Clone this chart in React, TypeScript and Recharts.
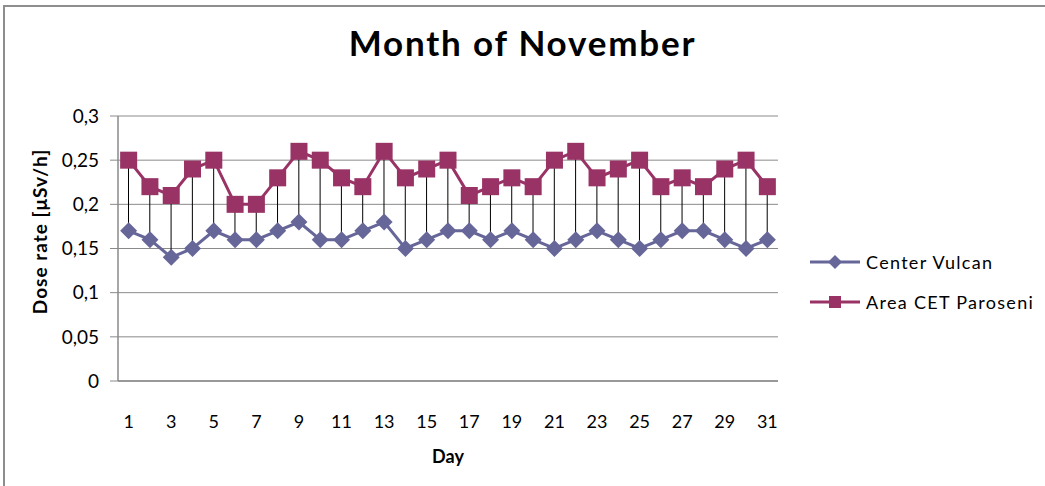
import React from 'react';
import { ComposedChart, Line, Bar, XAxis, YAxis, CartesianGrid, Legend } from 'recharts';

const days = [1, 2, 3, 4, 5, 6, 7, 8, 9, 10, 11, 12, 13, 14, 15, 16, 17, 18, 19, 20, 21, 22, 23, 24, 25, 26, 27, 28, 29, 30, 31];
const centerVulcan = [0.17, 0.16, 0.14, 0.15, 0.17, 0.16, 0.16, 0.17, 0.18, 0.16, 0.16, 0.17, 0.18, 0.15, 0.16, 0.17, 0.17, 0.16, 0.17, 0.16, 0.15, 0.16, 0.17, 0.16, 0.15, 0.16, 0.17, 0.17, 0.16, 0.15, 0.16];
const areaCetParoseni = [0.25, 0.22, 0.21, 0.24, 0.25, 0.2, 0.2, 0.23, 0.26, 0.25, 0.23, 0.22, 0.26, 0.23, 0.24, 0.25, 0.21, 0.22, 0.23, 0.22, 0.25, 0.26, 0.23, 0.24, 0.25, 0.22, 0.23, 0.22, 0.24, 0.25, 0.22];
const yTicks = [0, 0.05, 0.1, 0.15, 0.2, 0.25, 0.3];
const seriesNames = ['Center Vulcan', 'Area CET Paroseni'];
const title = 'Month of November';
const xTitle = 'Day';
const yTitle = 'Dose rate [μSv/h]';

const VULCAN = '#666699';
const PAROSENI = '#993366';
const FONT = 'Lato, Carlito, Calibri, sans-serif';

const data = days.map((d, i) => ({
  day: d,
  vulcan: centerVulcan[i],
  paroseni: areaCetParoseni[i],
  range: [Math.min(centerVulcan[i], areaCetParoseni[i]), Math.max(centerVulcan[i], areaCetParoseni[i])],
}));

const Diamond = (props: any) => {
  const { cx, cy, r = 8.5, fill = VULCAN } = props;
  if (cx == null || cy == null) return null;
  return <polygon points={`${cx},${cy - r} ${cx + r},${cy} ${cx},${cy + r} ${cx - r},${cy}`} fill={fill} />;
};

const Square = (props: any) => {
  const { cx, cy, r = 8.5, fill = PAROSENI } = props;
  if (cx == null || cy == null) return null;
  return <rect x={cx - r} y={cy - r} width={2 * r} height={2 * r} fill={fill} />;
};

const legendOrder = ['vulcan', 'paroseni'];

const renderLegend = (props: any) => {
  const items = (props.payload || [])
    .filter((p: any) => legendOrder.includes(p.dataKey))
    .sort((a: any, b: any) => legendOrder.indexOf(a.dataKey) - legendOrder.indexOf(b.dataKey));
  return (
    <div style={{ position: 'absolute', left: 0, top: 0, width: 240, fontFamily: FONT, fontSize: 18, color: '#000' }}>
      {items.map((it: any) => (
        <div key={it.dataKey} style={{ display: 'flex', alignItems: 'center', height: 28, marginBottom: 12 }}>
          <svg width={56} height={20} style={{ display: 'block', flex: 'none' }}>
            <line x1={0} y1={10} x2={50} y2={10} stroke={it.color} strokeWidth={3} />
            {it.dataKey === 'vulcan' ? <Diamond cx={25} cy={10} r={7} fill={it.color} /> : <Square cx={25} cy={10} r={6} fill={it.color} />}
          </svg>
          <span style={{ whiteSpace: 'nowrap', letterSpacing: 1.3 }}>{it.value}</span>
        </div>
      ))}
    </div>
  );
};

const YTitle = (props: any) => {
  const { viewBox } = props;
  const x = viewBox.x + 9;
  const y = viewBox.y + viewBox.height / 2 - 17;
  return (
    <text x={x} y={y} transform={`rotate(-90, ${x}, ${y})`} textAnchor="middle" fontFamily={FONT} fontWeight="bold" fontSize={19} letterSpacing={1} fill="#000">
      {yTitle}
    </text>
  );
};

const XTitle = (props: any) => {
  const { viewBox } = props;
  const x = viewBox.x + viewBox.width / 2;
  const y = viewBox.y + 82;
  return (
    <text x={x} y={y} textAnchor="middle" fontFamily={FONT} fontWeight="bold" fontSize={18} fill="#000">
      {xTitle}
    </text>
  );
};

export default function App() {
  return (
    <div style={{ position: 'fixed', left: 0, top: 0, width: 1045, height: 486, overflow: 'hidden', background: '#fff' }}>
      <div style={{ position: 'absolute', left: 3, top: 5, width: 1200, height: 700, border: '2px solid #8e8e8e', boxSizing: 'border-box' }} />
      <div style={{ position: 'absolute', left: 0, top: 21, width: 1045, textAlign: 'center', fontFamily: FONT, fontWeight: 'bold', fontSize: 35, letterSpacing: 1.8, color: '#000' }}>
        {title}
      </div>
      <div style={{ position: 'absolute', left: 0, top: 0 }}>
        <ComposedChart width={1045} height={486} data={data} margin={{ top: 116, right: 267, bottom: 45, left: 38 }}>
          <CartesianGrid horizontal vertical={false} stroke="#8a8a8a" strokeWidth={1} />
          <XAxis
            dataKey="day"
            interval={1}
            height={60}
            tickLine={false}
            tickSize={0}
            tickMargin={34}
            axisLine={{ stroke: '#8a8a8a', strokeWidth: 1.5 }}
            tick={{ fill: '#000', fontSize: 18, fontFamily: FONT }}
            label={{ content: <XTitle /> }}
          />
          <YAxis
            width={80}
            domain={[0, 0.3]}
            ticks={yTicks}
            interval={0}
            tickSize={8}
            tickMargin={11}
            tickLine={{ stroke: '#8a8a8a' }}
            axisLine={{ stroke: '#8a8a8a', strokeWidth: 1.5 }}
            tick={{ fill: '#000', fontSize: 19, fontFamily: FONT }}
            tickFormatter={(v: number) => String(v).replace('.', ',')}
            label={{ content: <YTitle /> }}
          />
          <Bar dataKey="range" barSize={1} fill="#000" legendType="none" isAnimationActive={false} />
          <Line
            dataKey="vulcan"
            name={seriesNames[0]}
            stroke={VULCAN}
            strokeWidth={3}
            dot={(p: any) => <Diamond key={`d${p.index}`} cx={p.cx} cy={p.cy} />}
            activeDot={false}
            isAnimationActive={false}
          />
          <Line
            dataKey="paroseni"
            name={seriesNames[1]}
            stroke={PAROSENI}
            strokeWidth={3}
            dot={(p: any) => <Square key={`s${p.index}`} cx={p.cx} cy={p.cy} />}
            activeDot={false}
            isAnimationActive={false}
          />
          <Legend content={renderLegend} wrapperStyle={{ position: 'absolute', left: 810, top: 248, width: 0, height: 0, overflow: 'visible' }} />
        </ComposedChart>
      </div>
    </div>
  );
}
